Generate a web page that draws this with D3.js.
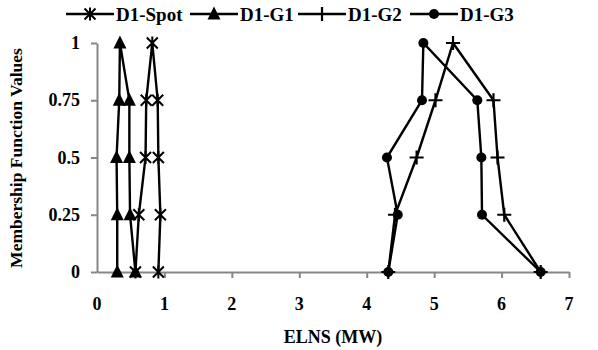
<!DOCTYPE html>
<html lang="en">
<head>
    <meta charset="UTF-8">
    <title>Membership Functions</title>
    <style>
        body { margin: 0; background: #fff; }
        text { font-family: "Liberation Serif", "Times New Roman", serif; font-weight: bold; fill: #000; }
        .axis path, .axis line { stroke: #868686; stroke-width: 2; }
        .series { fill: none; stroke: #000; stroke-width: 2.4; }
    </style>
</head>
<body>
    <script src="https://d3js.org/d3.v7.min.js"></script>
    <script>

        var width = 598,
            height = 350;

        // membership levels shared by every series (left leg, peak, right leg)
        var levels = [0, 0.25, 0.5, 0.75, 1, 0.75, 0.5, 0.25, 0];

        var spot = [0.57, 0.62, 0.72, 0.73, 0.82, 0.90, 0.91, 0.94, 0.91];
        var g1 = [0.30, 0.30, 0.29, 0.33, 0.34, 0.48, 0.48, 0.49, 0.57];
        var g2 = [4.32, 4.42, 4.74, 5.02, 5.28, 5.88, 5.94, 6.04, 6.58];
        var g3 = [4.32, 4.46, 4.30, 4.82, 4.84, 5.64, 5.70, 5.71, 6.58];

        var names = ["D1-Spot", "D1-G1", "D1-G2", "D1-G3"];
        var markers = ["star", "triangle", "plus", "circle"];
        var xTicks = [0, 1, 2, 3, 4, 5, 6, 7];
        var yTicks = [0, 0.25, 0.5, 0.75, 1];

        var x = d3.scaleLinear().domain([0, 7]).range([97, 569]);
        var y = d3.scaleLinear().domain([0, 1]).range([272, 43]);

        var svg = d3.select("body").append("svg")
            .attr("width", width)
            .attr("height", height);

        // axes
        var xAxis = svg.append("g")
            .attr("class", "axis")
            .attr("transform", "translate(0," + y(0) + ")")
            .call(d3.axisBottom(x).tickValues(xTicks).tickSize(6).tickSizeOuter(0).tickFormat(""));
        xAxis.selectAll(".tick").filter(function(d) { return d === 0; }).remove();

        var yAxis = svg.append("g")
            .attr("class", "axis")
            .attr("transform", "translate(" + x(0) + ",0)")
            .call(d3.axisLeft(y).tickValues(yTicks).tickSize(6).tickSizeOuter(0).tickFormat(""));

        svg.selectAll(".xlab")
            .data(xTicks)
            .enter().append("text")
            .attr("x", function(d) { return x(d); })
            .attr("y", 310)
            .attr("text-anchor", "middle")
            .style("font-size", "18px")
            .text(function(d) { return d; });

        svg.selectAll(".ylab")
            .data(yTicks)
            .enter().append("text")
            .attr("x", 80)
            .attr("y", function(d) { return y(d) + 6; })
            .attr("text-anchor", "end")
            .style("font-size", "18px")
            .text(function(d) { return d; });

        svg.append("text")
            .attr("x", 333)
            .attr("y", 343)
            .attr("text-anchor", "middle")
            .style("font-size", "18px")
            .text("ELNS (MW)");

        svg.append("text")
            .attr("transform", "translate(22,158) rotate(-90)")
            .attr("text-anchor", "middle")
            .style("font-size", "17.5px")
            .text("Membership Function Values");

        function drawMarker(g, type) {
            if (type === "star") {
                g.append("path")
                    .attr("d", "M-5.5,-5.5L5.5,5.5M-5.5,5.5L5.5,-5.5M0,-6.5L0,6.5")
                    .attr("stroke", "#000").attr("stroke-width", 2).attr("fill", "none");
            } else if (type === "triangle") {
                g.append("path")
                    .attr("d", "M0,-7.5L6.5,5.5L-6.5,5.5Z")
                    .attr("fill", "#000");
            } else if (type === "plus") {
                g.append("path")
                    .attr("d", "M-7,0L7,0M0,-7L0,7")
                    .attr("stroke", "#000").attr("stroke-width", 2.2).attr("fill", "none");
            } else {
                g.append("circle").attr("r", 5).attr("fill", "#000");
            }
        }

        var line = d3.line()
            .x(function(d) { return x(d[0]); })
            .y(function(d) { return y(d[1]); });

        var series = [spot, g1, g2, g3];

        series.forEach(function(vals, i) {
            var pts = vals.map(function(v, j) { return [v, levels[j]]; });

            svg.append("path")
                .attr("class", "series")
                .attr("d", line(pts));

            pts.forEach(function(p) {
                var g = svg.append("g")
                    .attr("transform", "translate(" + x(p[0]) + "," + y(p[1]) + ")");
                drawMarker(g, markers[i]);
            });
        });

        // legend
        var legendX = [66, 190, 298, 410];

        names.forEach(function(name, i) {
            var lg = svg.append("g").attr("transform", "translate(" + legendX[i] + ",14)");
            lg.append("line")
                .attr("x1", 0).attr("x2", 48)
                .attr("stroke", "#000").attr("stroke-width", 2.4);
            drawMarker(lg.append("g").attr("transform", "translate(24,0)"), markers[i]);
            lg.append("text")
                .attr("x", 50)
                .attr("y", 6.5)
                .style("font-size", "19px")
                .text(name);
        });

    </script>
</body>
</html>
